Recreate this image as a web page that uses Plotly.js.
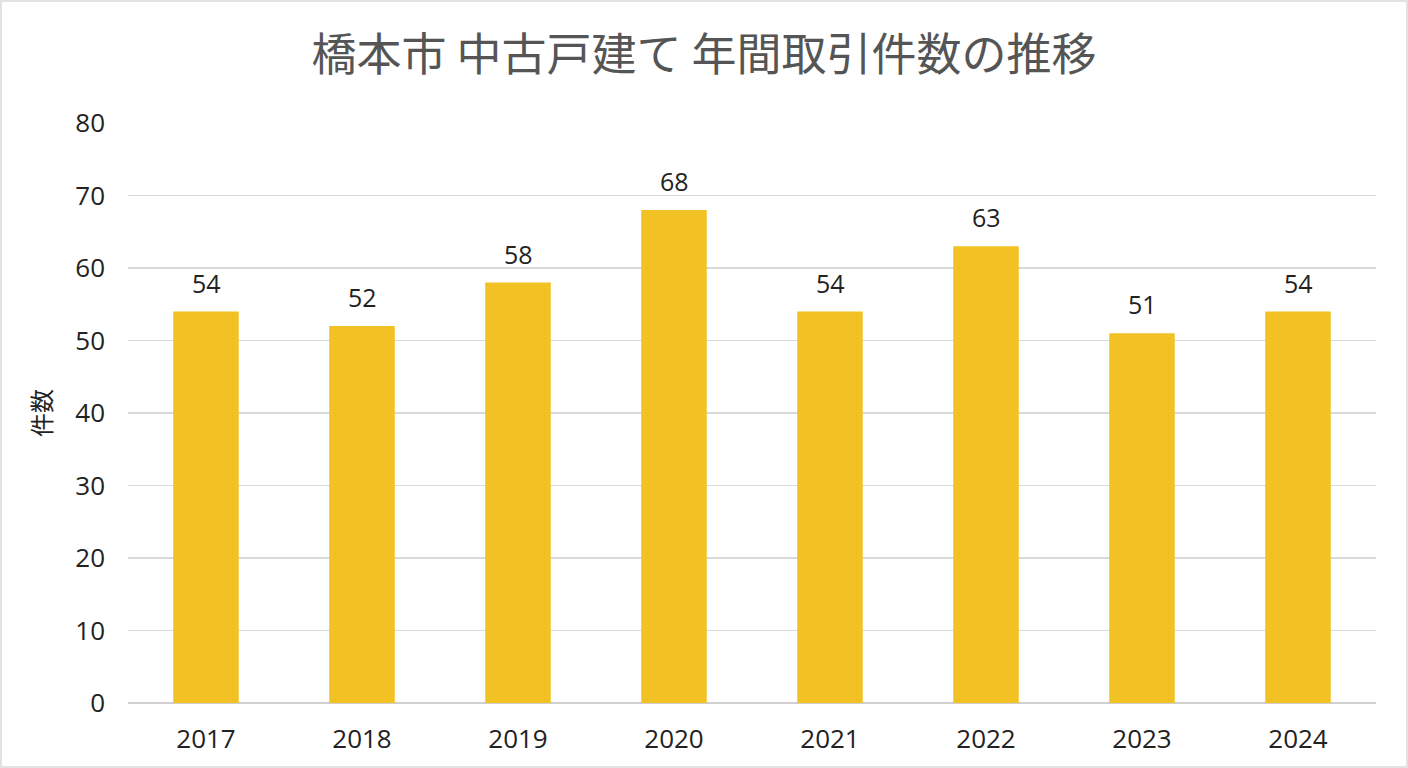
<!DOCTYPE html>
<html>
<head>
<meta charset="utf-8">
<script src="https://cdn.plot.ly/plotly-3.0.1.min.js"></script>
<style>
  html, body { margin: 0; padding: 0; background: #fff; }
  #plot { width: 1408px; height: 768px; box-sizing: border-box; border: 2px solid #e2e2e2; }
</style>
</head>
<body>
<div id="plot"></div>
<script>
const years = ['2017', '2018', '2019', '2020', '2021', '2022', '2023', '2024'];
const counts = [54, 52, 58, 68, 54, 63, 51, 54];
const yTicks = [0, 10, 20, 30, 40, 50, 60, 70, 80];

const numFont = 'Open Sans, Noto Sans CJK JP, sans-serif';

const barTrace = {
	x: years,
	y: counts,
	type: 'bar',
	width: 0.42,
	marker: { color: '#F2C224' },
	hoverinfo: 'none'
};

// value labels sit a little higher above the bars than plotly's outside text
// (x given as category index, a '2017' string gets read as a number)
const labels = years.map((yr, i) => ({
	x: i,
	y: counts[i],
	text: String(counts[i]),
	showarrow: false,
	yanchor: 'bottom',
	yshift: 10,
	font: { family: numFont, size: 25, color: '#222' }
}));

const layout = {
	width: 1404,
	height: 764,
	margin: { l: 126, r: 30, t: 121, b: 63 },
	paper_bgcolor: '#fff',
	plot_bgcolor: '#fff',
	showlegend: false,
	font: { family: numFont, color: '#222' },
	title: {
		text: '橋本市 中古戸建て 年間取引件数の推移',
		font: { family: 'Noto Sans CJK JP, sans-serif', size: 45, color: '#555' },
		x: 0.5,
		xanchor: 'center',
		y: 0.93,
		yanchor: 'middle'
	},
	annotations: labels,
	xaxis: {
		type: 'category',
		tickfont: { size: 26, color: '#222' },
		showgrid: false,
		showline: false,
		ticks: '',
		ticklabelstandoff: 18,
		automargin: false
	},
	yaxis: {
		range: [0, 80],
		tickvals: yTicks,
		tickfont: { size: 26, color: '#222' },
		gridcolor: '#d9d9d9',
		gridwidth: 1.5,
		zeroline: true,
		zerolinecolor: '#d0d0d0',
		zerolinewidth: 2,
		ticks: '',
		ticklabelstandoff: 22,
		automargin: false,
		title: {
			text: '件数',
			font: { family: 'Noto Sans CJK JP, sans-serif', size: 24, color: '#222' },
			standoff: 16
		}
	}
};

Plotly.newPlot('plot', [barTrace], layout, { displayModeBar: false, staticPlot: true });
</script>
</body>
</html>
